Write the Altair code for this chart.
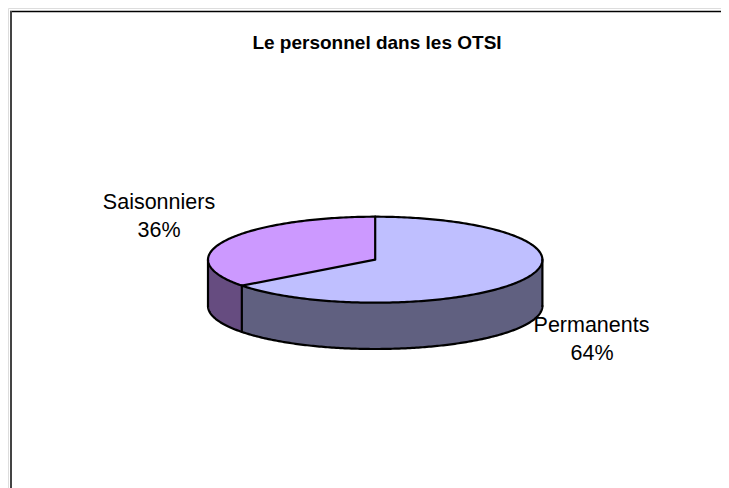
import math
import altair as alt
import pandas as pd

categories = ["Permanents", "Saisonniers"]
shares = [64, 36]
top_colors = ["#BFBFFF", "#CC99FF"]
wall_colors = ["#606080", "#664C80"]
title_text = "Le personnel dans les OTSI"

CX, CY, RX, RY, DEPTH = 375.2, 259.7, 167.2, 43.0, 46.3
TILT_SHIFT_DEG = 2.5  # the drawn wedge edge sits slightly past the exact share
W, H = 721, 488

t_split = 2 * math.pi * shares[0] / sum(shares) + math.radians(TILT_SHIFT_DEG)
x_split = CX + RX * math.sin(t_split)
y_split = CY - RY * math.cos(t_split)


def lower(x):
    u = max(-1.0, min(1.0, (x - CX) / RX))
    return CY + RY * math.sqrt(1 - u * u)


def upper(x):
    u = max(-1.0, min(1.0, (x - CX) / RX))
    return CY - RY * math.sqrt(1 - u * u)


def radial(x):
    return CY + (y_split - CY) * (CX - x) / (CX - x_split)


def xs(a, b, n=160):
    t0 = math.acos(max(-1, min(1, (a - CX) / RX)))
    t1 = math.acos(max(-1, min(1, (b - CX) / RX)))
    return [CX + RX * math.cos(t0 + (t1 - t0) * i / n) for i in range(n + 1)]


top0 = [dict(x=x, y=radial(x), y2=lower(x)) for x in xs(x_split, CX)] + [
    dict(x=x, y=upper(x), y2=lower(x)) for x in xs(CX, CX + RX)
]
top1 = [dict(x=x, y=upper(x), y2=lower(x)) for x in xs(CX - RX, x_split)] + [
    dict(x=x, y=upper(x), y2=radial(x)) for x in xs(x_split, CX)
]
wall0 = [dict(x=x, y=lower(x), y2=lower(x) + DEPTH) for x in xs(x_split, CX + RX)]
wall1 = [dict(x=x, y=lower(x), y2=lower(x) + DEPTH) for x in xs(CX - RX, x_split)]

X = alt.X("x:Q", scale=alt.Scale(domain=[8, W], nice=False, zero=False), axis=None)
Y = alt.Y("y:Q", scale=alt.Scale(domain=[H, 8], nice=False, zero=False), axis=None)


def face(rows, colour):
    return (
        alt.Chart(pd.DataFrame(rows))
        .mark_area(color=colour, interpolate="linear")
        .encode(x=X, y=Y, y2="y2:Q")
    )


areas = [
    face(wall0, wall_colors[0]),
    face(wall1, wall_colors[1]),
    face(top0, top_colors[0]),
    face(top1, top_colors[1]),
]

lines = []
n_out = 360
for k in range(n_out + 1):
    t = 2 * math.pi * k / n_out
    lines.append(dict(g="rim", k=k, x=CX + RX * math.sin(t), y=CY - RY * math.cos(t)))
k = 0
for x in xs(CX - RX, CX + RX, 240):
    lines.append(dict(g="base", k=k, x=x, y=lower(x) + DEPTH))
    k += 1
for g, pts in {
    "left": [(CX - RX, CY), (CX - RX, CY + DEPTH)],
    "right": [(CX + RX, CY), (CX + RX, CY + DEPTH)],
    "edge": [(x_split, y_split), (x_split, y_split + DEPTH)],
    "r0": [(CX, CY - RY), (CX, CY), (x_split, y_split)],
}.items():
    for k, (a, b) in enumerate(pts):
        lines.append(dict(g=g, k=k, x=a, y=b))

outline = (
    alt.Chart(pd.DataFrame(lines))
    .mark_line(color="#000000", strokeWidth=2.2, interpolate="linear", strokeCap="round", strokeJoin="round")
    .encode(x=X, y=Y, detail="g:N", order="k:Q")
)

frame_top = (
    alt.Chart(pd.DataFrame({"x": [10], "x2": [W], "y": [11.5]}))
    .mark_rule(color="#000000", strokeWidth=1.5)
    .encode(x=X, x2="x2:Q", y=Y)
)
frame_left = (
    alt.Chart(pd.DataFrame({"x": [11], "y": [11], "y2": [H]}))
    .mark_rule(color="#444444", strokeWidth=2)
    .encode(x=X, y=Y, y2="y2:Q")
)

title = (
    alt.Chart(pd.DataFrame({"x": [377], "y": [42.5], "t": [title_text]}))
    .mark_text(font="Liberation Sans", fontWeight="bold", fontSize=19, color="#000000", baseline="middle")
    .encode(x=X, y=Y, text="t:N")
)

labels = pd.DataFrame(
    {
        "x": [591.5, 592, 159, 159],
        "y": [326, 354, 203, 231],
        "t": [categories[0], f"{shares[0]}%", categories[1], f"{shares[1]}%"],
    }
)
label_marks = (
    alt.Chart(labels)
    .mark_text(font="Liberation Sans", fontSize=21.5, color="#000000", baseline="middle")
    .encode(x=X, y=Y, text="t:N")
)

chart = (
    alt.layer(*areas, outline, frame_top, frame_left, title, label_marks)
    .properties(width=W - 8, height=H - 8, padding=0, autosize=alt.AutoSizeParams(type="none"))
    .configure_view(stroke=None)
    .configure(background="#FFFFFF")
)

chart.save("out.html", embed_options={"renderer": "svg", "actions": False})
